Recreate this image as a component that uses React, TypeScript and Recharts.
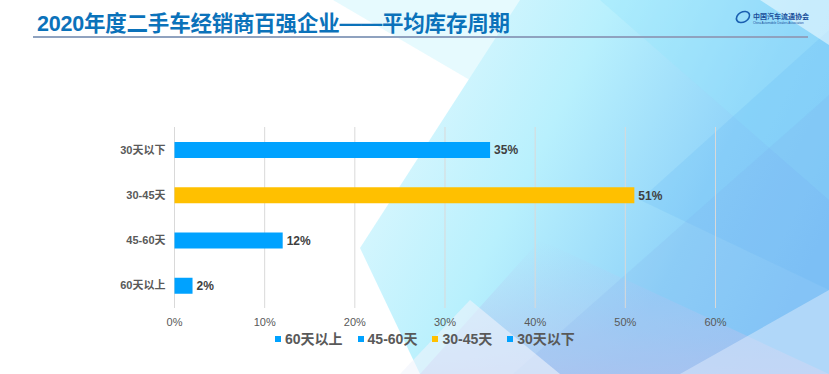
import React from "react";
import { BarChart, Bar, XAxis, YAxis, CartesianGrid, Cell, LabelList } from "recharts";

// categories top → bottom as drawn
const categories = ["30天以下", "30-45天", "45-60天", "60天以上"];
const shares = [0.35, 0.51, 0.12, 0.02];
const barColors = ["#00A2FF", "#FFC000", "#00A2FF", "#00A2FF"];
const xTicks = [0, 0.1, 0.2, 0.3, 0.4, 0.5, 0.6];
// legend order as in the original slide
const legendOrder = ["60天以上", "45-60天", "30-45天", "30天以下"];

const title = "2020年度二手车经销商百强企业——平均库存周期";
const FONT = '"Liberation Sans", "Noto Sans CJK SC", sans-serif';

const data = categories.map((name, i) => ({ name, value: shares[i], color: barColors[i] }));
const colorOf = (name: string) => data.find((d) => d.name === name)?.color ?? "#00A2FF";
const pct = (v: any) => `${Math.round(Number(v) * 100)}%`;

function Backdrop() {
  return (
    <svg width={829} height={374} style={{ position: "absolute", left: 0, top: 0 }}>
      <defs>
        <linearGradient id="bg" x1="0" y1="0.2" x2="1" y2="0.6">
          <stop offset="0" stopColor="#E4F9FE" />
          <stop offset="0.4" stopColor="#B8F0FD" />
          <stop offset="0.75" stopColor="#90D3F9" />
          <stop offset="1" stopColor="#86C9F8" />
        </linearGradient>
        <linearGradient id="low" x1="0" y1="0" x2="0" y2="1">
          <stop offset="0" stopColor="#B4CCF3" stopOpacity={0} />
          <stop offset="1" stopColor="#B4C8F1" stopOpacity={0.85} />
        </linearGradient>
      </defs>
      <rect width={829} height={374} fill="#FFFFFF" />
      {/* decorative slide facets */}
      <polygon points="333,0 829,0 829,290" fill="rgba(205,245,253,0.5)" />
      <polygon points="360,248 520,0 829,0 829,374 420,374" fill="url(#bg)" />
      <polygon points="600,0 829,0 829,200" fill="rgba(150,228,252,0.35)" />
      <polygon points="640,200 829,30 829,290" fill="rgba(90,175,245,0.18)" />
      <polygon points="760,0 829,0 829,45" fill="rgba(255,255,255,0.5)" />
      <polygon points="420,374 540,240 829,374" fill="url(#low)" />
      <polygon points="513,374 829,95 829,374" fill="rgba(120,165,235,0.14)" />
      <polygon points="680,374 829,290 829,374" fill="rgba(230,240,253,0.45)" />
      <polygon points="400,374 470,300 560,374" fill="rgba(240,243,251,0.6)" />
      {/* title */}
      <text x={37} y={31} fontFamily={FONT} fontSize={21.5} fontWeight="bold" fill="#0B72BA" textLength={473}>
        {title}
      </text>
      <line x1={33} y1={37} x2={808} y2={37} stroke="#8FA2BF" strokeWidth={2} />
      {/* logo */}
      <ellipse cx={743} cy={17} rx={7} ry={5} fill="none" stroke="#1A5FB0" strokeWidth={1.6} transform="rotate(-30 743 17)" />
      <text x={753} y={19} fontFamily={FONT} fontSize={7} fontWeight="bold" fill="#1A4E9A">
        中国汽车流通协会
      </text>
      <text x={753} y={24} fontFamily={FONT} fontSize={3} fill="#1A4E9A">
        China Automobile Dealers Association
      </text>
    </svg>
  );
}

export default function App() {
  return (
    <div style={{ position: "absolute", left: 0, top: 0, width: 829, height: 374, fontFamily: FONT }}>
      <Backdrop />
      <div style={{ position: "absolute", left: 0, top: 0 }}>
        <BarChart
          width={829}
          height={374}
          data={data}
          layout="vertical"
          margin={{ top: 127, right: 113.5, bottom: 36, left: 0 }}
        >
          <CartesianGrid horizontal={false} stroke="#D9D9D9" />
          <XAxis
            type="number"
            domain={[0, 0.6]}
            ticks={xTicks}
            tickFormatter={pct}
            axisLine={false}
            tickLine={false}
            tickSize={0}
            tickMargin={10}
            height={30}
            tick={{ fill: "#595959", fontSize: 11, fontFamily: FONT }}
          />
          <YAxis
            type="category"
            dataKey="name"
            width={174.5}
            axisLine={false}
            tickLine={false}
            tickSize={0}
            tickMargin={9}
            tick={{ fill: "#595959", fontSize: 11, fontWeight: "bold", fontFamily: FONT }}
          />
          <Bar dataKey="value" barSize={16} isAnimationActive={false}>
            {data.map((d) => (
              <Cell key={d.name} fill={d.color} />
            ))}
            <LabelList
              dataKey="value"
              position="right"
              offset={4}
              formatter={pct}
              fill="#404040"
              fontSize={12}
              fontWeight="bold"
              fontFamily={FONT}
            />
          </Bar>
        </BarChart>
      </div>
      <div
        style={{
          position: "absolute",
          left: 275,
          top: 330,
          height: 18,
          display: "flex",
          alignItems: "center",
          gap: 15,
          fontSize: 14,
          fontWeight: "bold",
          color: "#595959",
          whiteSpace: "nowrap",
        }}
      >
        {legendOrder.map((name) => (
          <div key={name} style={{ display: "flex", alignItems: "center", gap: 4 }}>
            <span style={{ display: "inline-block", width: 6, height: 6, background: colorOf(name) }} />
            <span style={{ lineHeight: "18px" }}>{name}</span>
          </div>
        ))}
      </div>
    </div>
  );
}
